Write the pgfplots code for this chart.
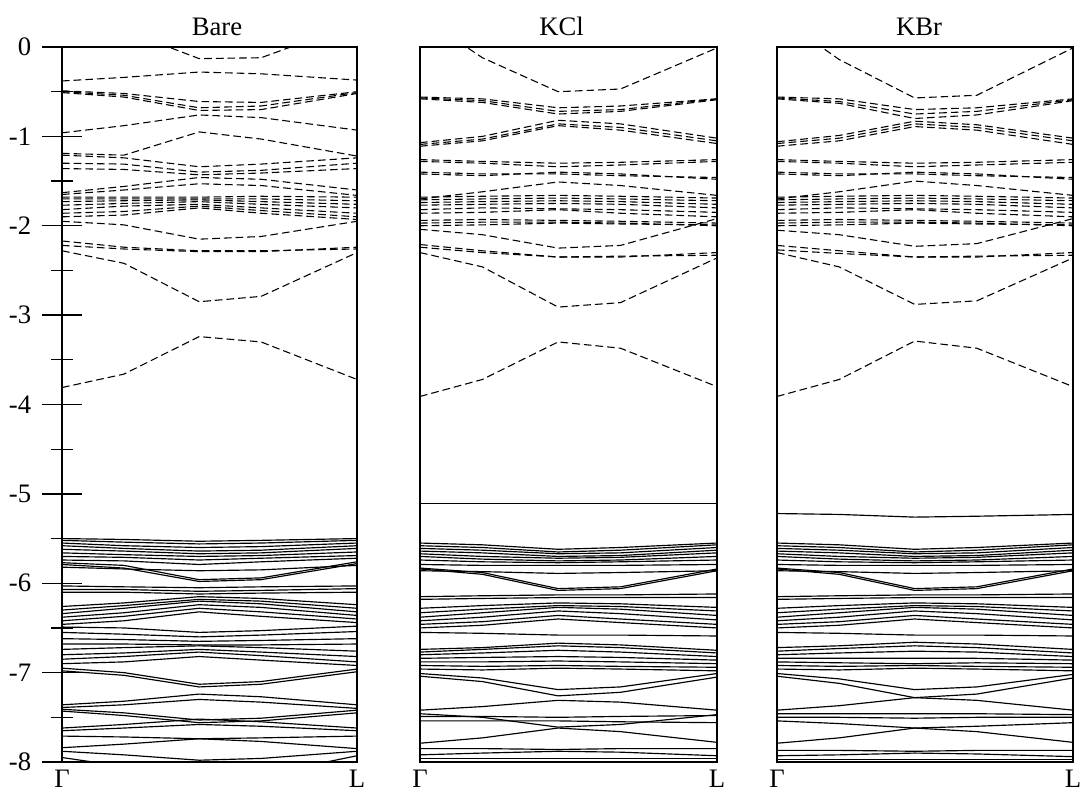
\documentclass[border=0pt]{standalone}
\usepackage{fontspec}
\setmainfont{Liberation Serif}
\usepackage{pgfplots}
\usepackage{pgfplotstable}
\pgfplotsset{compat=1.18}

% ---------- Bare: conduction bands (dashed), first data row = k positions
\pgfplotstableread{
g a m b l
0 0.21 0.465 0.675 1
0.45 0.19 -0.13 -0.12 0.27
-0.38 -0.34 -0.28 -0.30 -0.37
-0.49 -0.52 -0.61 -0.62 -0.50
-0.50 -0.54 -0.68 -0.66 -0.51
-0.51 -0.56 -0.71 -0.70 -0.52
-0.96 -0.88 -0.76 -0.79 -0.93
-1.19 -1.21 -0.95 -1.03 -1.22
-1.21 -1.24 -1.34 -1.31 -1.24
-1.30 -1.31 -1.40 -1.38 -1.30
-1.36 -1.37 -1.43 -1.41 -1.36
-1.63 -1.56 -1.46 -1.48 -1.60
-1.65 -1.60 -1.53 -1.55 -1.66
-1.68 -1.68 -1.68 -1.67 -1.68
-1.70 -1.70 -1.70 -1.70 -1.72
-1.73 -1.72 -1.71 -1.73 -1.76
-1.77 -1.75 -1.73 -1.76 -1.80
-1.82 -1.78 -1.76 -1.80 -1.86
-1.86 -1.84 -1.78 -1.83 -1.90
-1.90 -1.88 -1.80 -1.86 -1.93
-1.95 -1.99 -2.15 -2.12 -1.95
-2.17 -2.24 -2.28 -2.28 -2.26
-2.22 -2.26 -2.29 -2.29 -2.24
-2.28 -2.42 -2.85 -2.79 -2.30
-3.81 -3.66 -3.24 -3.30 -3.72
}\bareCraw
% ---------- Bare: valence bands (solid)
\pgfplotstableread{
g a m b l
0 0.21 0.465 0.675 1
-5.50 -5.51 -5.53 -5.52 -5.50
-5.52 -5.54 -5.56 -5.55 -5.52
-5.55 -5.58 -5.60 -5.59 -5.55
-5.58 -5.61 -5.64 -5.63 -5.58
-5.62 -5.64 -5.67 -5.66 -5.61
-5.66 -5.68 -5.70 -5.69 -5.65
-5.70 -5.71 -5.74 -5.72 -5.69
-5.74 -5.75 -5.79 -5.76 -5.72
-5.77 -5.80 -5.96 -5.94 -5.76
-5.79 -5.83 -5.98 -5.96 -5.78
-5.82 -5.84 -5.86 -5.85 -5.80
-6.03 -6.04 -6.05 -6.04 -6.03
-6.07 -6.07 -6.09 -6.08 -6.06
-6.10 -6.10 -6.12 -6.11 -6.10
-6.26 -6.22 -6.15 -6.17 -6.24
-6.30 -6.25 -6.18 -6.20 -6.28
-6.34 -6.28 -6.20 -6.23 -6.32
-6.38 -6.33 -6.24 -6.27 -6.36
-6.42 -6.37 -6.28 -6.32 -6.40
-6.46 -6.42 -6.32 -6.37 -6.44
-6.49 -6.50 -6.55 -6.53 -6.48
-6.55 -6.57 -6.60 -6.58 -6.54
-6.62 -6.63 -6.65 -6.64 -6.62
-6.68 -6.68 -6.69 -6.69 -6.68
-6.74 -6.72 -6.70 -6.72 -6.76
-6.80 -6.78 -6.74 -6.77 -6.82
-6.85 -6.82 -6.77 -6.81 -6.88
-6.90 -6.88 -6.82 -6.86 -6.92
-6.95 -7.00 -7.13 -7.10 -6.96
-6.98 -7.03 -7.16 -7.13 -6.99
-7.36 -7.32 -7.24 -7.27 -7.36
-7.39 -7.36 -7.30 -7.33 -7.40
-7.41 -7.45 -7.53 -7.51 -7.42
-7.43 -7.48 -7.56 -7.54 -7.45
-7.62 -7.58 -7.52 -7.55 -7.62
-7.65 -7.62 -7.58 -7.60 -7.65
-7.71 -7.72 -7.74 -7.73 -7.71
-7.84 -7.80 -7.74 -7.77 -7.85
-7.88 -7.92 -7.98 -7.96 -7.88
-7.95 -8.05 -8.20 -8.15 -7.93
}\bareVraw
% ---------- KCl: conduction
\pgfplotstableread{
g a m b l
0 0.21 0.465 0.675 1
0.35 -0.12 -0.50 -0.47 -0.01
-0.56 -0.58 -0.68 -0.66 -0.58
-0.57 -0.60 -0.72 -0.70 -0.58
-0.58 -0.62 -0.75 -0.72 -0.59
-1.07 -1.00 -0.82 -0.86 -1.02
-1.09 -1.03 -0.86 -0.90 -1.05
-1.11 -1.05 -0.88 -0.93 -1.08
-1.26 -1.28 -1.30 -1.29 -1.26
-1.28 -1.30 -1.34 -1.32 -1.28
-1.40 -1.42 -1.42 -1.44 -1.46
-1.42 -1.44 -1.40 -1.42 -1.48
-1.70 -1.62 -1.51 -1.55 -1.66
-1.68 -1.67 -1.66 -1.67 -1.69
-1.71 -1.70 -1.69 -1.70 -1.72
-1.74 -1.73 -1.72 -1.73 -1.76
-1.77 -1.76 -1.75 -1.76 -1.80
-1.82 -1.80 -1.81 -1.82 -1.85
-1.86 -1.85 -1.82 -1.86 -1.90
-1.94 -1.93 -1.94 -1.95 -1.97
-1.97 -1.96 -1.96 -1.97 -2.00
-2.00 -1.99 -1.97 -1.98 -1.99
-2.04 -2.10 -2.25 -2.22 -1.92
-2.21 -2.28 -2.35 -2.35 -2.30
-2.24 -2.30 -2.35 -2.34 -2.33
-2.30 -2.46 -2.91 -2.86 -2.36
-3.91 -3.72 -3.30 -3.37 -3.80
}\kclCraw
% ---------- KCl: valence
\pgfplotstableread{
g a m b l
0 0.21 0.465 0.675 1
-5.11 -5.11 -5.11 -5.11 -5.11
-5.55 -5.57 -5.62 -5.60 -5.55
-5.58 -5.60 -5.65 -5.63 -5.57
-5.61 -5.63 -5.67 -5.66 -5.60
-5.64 -5.66 -5.70 -5.69 -5.63
-5.67 -5.70 -5.72 -5.71 -5.66
-5.70 -5.73 -5.75 -5.74 -5.70
-5.74 -5.76 -5.77 -5.76 -5.74
-5.79 -5.80 -5.80 -5.80 -5.79
-5.83 -5.88 -6.06 -6.04 -5.84
-5.84 -5.90 -6.08 -6.06 -5.86
-5.86 -5.87 -5.89 -5.88 -5.86
-6.15 -6.14 -6.13 -6.13 -6.12
-6.18 -6.17 -6.16 -6.16 -6.16
-6.28 -6.25 -6.22 -6.23 -6.27
-6.33 -6.29 -6.25 -6.26 -6.31
-6.38 -6.33 -6.27 -6.29 -6.36
-6.42 -6.38 -6.31 -6.34 -6.41
-6.46 -6.43 -6.36 -6.40 -6.46
-6.50 -6.47 -6.40 -6.44 -6.50
-6.55 -6.56 -6.58 -6.58 -6.59
-6.74 -6.72 -6.67 -6.69 -6.75
-6.77 -6.74 -6.70 -6.72 -6.78
-6.80 -6.78 -6.75 -6.77 -6.82
-6.84 -6.83 -6.82 -6.83 -6.86
-6.88 -6.88 -6.87 -6.88 -6.90
-6.92 -6.93 -6.92 -6.93 -6.94
-6.96 -6.97 -6.95 -6.96 -6.98
-7.01 -7.06 -7.19 -7.16 -7.01
-7.04 -7.10 -7.26 -7.22 -7.05
-7.42 -7.38 -7.31 -7.33 -7.42
-7.46 -7.50 -7.61 -7.58 -7.47
-7.49 -7.49 -7.50 -7.49 -7.48
-7.54 -7.54 -7.54 -7.55 -7.56
-7.79 -7.73 -7.62 -7.66 -7.78
-7.85 -7.85 -7.86 -7.85 -7.85
-7.92 -7.90 -7.88 -7.89 -7.93
-7.96 -7.96 -7.96 -7.96 -7.96
}\kclVraw
% ---------- KBr: conduction
\pgfplotstableread{
g a m b l
0 0.21 0.465 0.675 1
0.35 -0.14 -0.57 -0.54 -0.01
-0.56 -0.58 -0.70 -0.68 -0.58
-0.57 -0.61 -0.75 -0.72 -0.59
-0.58 -0.63 -0.80 -0.76 -0.60
-1.06 -0.99 -0.83 -0.87 -1.02
-1.08 -1.02 -0.86 -0.90 -1.05
-1.11 -1.05 -0.89 -0.93 -1.09
-1.26 -1.28 -1.30 -1.29 -1.26
-1.28 -1.30 -1.34 -1.32 -1.29
-1.40 -1.42 -1.42 -1.44 -1.46
-1.42 -1.44 -1.40 -1.42 -1.48
-1.70 -1.62 -1.50 -1.55 -1.66
-1.68 -1.67 -1.66 -1.67 -1.69
-1.71 -1.70 -1.69 -1.70 -1.72
-1.74 -1.73 -1.72 -1.73 -1.76
-1.77 -1.76 -1.75 -1.76 -1.80
-1.82 -1.80 -1.81 -1.82 -1.85
-1.86 -1.85 -1.82 -1.86 -1.90
-1.94 -1.93 -1.94 -1.95 -1.97
-1.97 -1.96 -1.96 -1.97 -2.00
-2.00 -1.99 -1.97 -1.98 -1.99
-2.05 -2.10 -2.23 -2.20 -1.92
-2.22 -2.28 -2.35 -2.35 -2.30
-2.27 -2.31 -2.35 -2.34 -2.33
-2.30 -2.46 -2.88 -2.84 -2.36
-3.91 -3.72 -3.29 -3.37 -3.80
}\kbrCraw
% ---------- KBr: valence
\pgfplotstableread{
g a m b l
0 0.21 0.465 0.675 1
-5.22 -5.23 -5.26 -5.25 -5.23
-5.55 -5.57 -5.62 -5.60 -5.55
-5.58 -5.60 -5.65 -5.63 -5.57
-5.61 -5.63 -5.67 -5.66 -5.60
-5.64 -5.66 -5.70 -5.69 -5.63
-5.67 -5.70 -5.72 -5.71 -5.66
-5.70 -5.73 -5.75 -5.74 -5.70
-5.74 -5.76 -5.77 -5.76 -5.74
-5.79 -5.80 -5.80 -5.80 -5.79
-5.83 -5.88 -6.06 -6.04 -5.84
-5.84 -5.90 -6.08 -6.06 -5.86
-5.86 -5.87 -5.89 -5.88 -5.86
-6.15 -6.14 -6.13 -6.13 -6.12
-6.18 -6.17 -6.16 -6.16 -6.16
-6.28 -6.25 -6.22 -6.23 -6.27
-6.33 -6.29 -6.25 -6.26 -6.31
-6.38 -6.33 -6.27 -6.29 -6.36
-6.42 -6.38 -6.31 -6.34 -6.41
-6.46 -6.43 -6.36 -6.40 -6.46
-6.50 -6.47 -6.40 -6.44 -6.50
-6.55 -6.56 -6.58 -6.58 -6.59
-6.72 -6.70 -6.66 -6.68 -6.74
-6.76 -6.73 -6.70 -6.72 -6.78
-6.80 -6.78 -6.76 -6.77 -6.82
-6.84 -6.84 -6.84 -6.84 -6.86
-6.88 -6.89 -6.90 -6.89 -6.90
-6.92 -6.93 -6.92 -6.93 -6.94
-6.96 -6.97 -6.95 -6.96 -6.98
-7.01 -7.07 -7.19 -7.16 -7.02
-7.04 -7.12 -7.28 -7.24 -7.06
-7.42 -7.37 -7.28 -7.31 -7.42
-7.46 -7.46 -7.46 -7.46 -7.47
-7.50 -7.50 -7.51 -7.50 -7.50
-7.54 -7.57 -7.62 -7.60 -7.56
-7.79 -7.73 -7.62 -7.66 -7.78
-7.87 -7.87 -7.88 -7.87 -7.87
-7.93 -7.92 -7.90 -7.91 -7.94
-7.97 -7.97 -7.97 -7.97 -7.97
}\kbrVraw

\pgfplotstabletranspose\bareC{\bareCraw}
\pgfplotstabletranspose\bareV{\bareVraw}
\pgfplotstabletranspose\kclC{\kclCraw}
\pgfplotstabletranspose\kclV{\kclVraw}
\pgfplotstabletranspose\kbrC{\kbrCraw}
\pgfplotstabletranspose\kbrV{\kbrVraw}

\newcommand\bands[2]{%
  \pgfplotstablegetcolsof{#1}%
  \pgfmathtruncatemacro\lastcol{\pgfplotsretval-1}%
  \pgfplotsinvokeforeach{2,...,\lastcol}{%
    \addplot[#2] table[x index=1, y index=##1] {#1};
  }%
}

\pgfplotsset{
  cband/.style={black, line width=0.65pt, dash pattern=on 4.6pt off 2.4pt},
  vband/.style={black, line width=0.7pt},
  panel/.style={
    scale only axis, width=177.6pt, height=429pt, anchor=south west,
    xmin=0, xmax=1, ymin=-8, ymax=0,
    xtick={0,1}, xticklabels={Γ,L}, xtick style={draw=none},
    axis line style={line width=0.8pt, black},
    every tick label/.append style={font=\fontsize{16}{19}\selectfont},
    xticklabel style={anchor=base, inner sep=0pt, yshift=-15pt},
    every axis title/.style={at={(0.5,1)}, anchor=base, yshift=7.2pt,
      font=\fontsize{16}{19}\selectfont},
  }
}

\begin{document}
\begin{tikzpicture}
\useasboundingbox (0,0) rectangle (650.4pt,474.6pt);

\begin{axis}[panel, at={(37.2pt,17.4pt)}, width=177pt,
  title={Bare}, title style={xshift=4.5pt},
  ytick={-8,-7,-6,-5,-4,-3,-2,-1,0},
  yticklabels={-8,-7,-6,-5,-4,-3,-2,-1,0},
  minor ytick={-7.5,-6.5,-5.5,-4.5,-3.5,-2.5,-1.5,-0.5},
  ytick pos=left, tick align=center,
  major tick length=24pt, minor tick length=12.6pt,
  ytick style={line width=0.8pt, black},
  minor tick style={line width=0.8pt, black},
  yticklabel style={anchor=east, xshift=-3pt},
  xticklabel style={yshift=12pt},
]
\bands{\bareC}{cband}
\bands{\bareV}{vband}
\end{axis}

\begin{axis}[panel, at={(252pt,17.4pt)}, width=178.2pt,
  title={KCl}, title style={xshift=-4.2pt}, ytick=\empty]
\bands{\kclC}{cband}
\bands{\kclV}{vband}
\end{axis}

\begin{axis}[panel, at={(466.2pt,17.4pt)}, width=177.6pt,
  title={KBr}, title style={xshift=-3.6pt}, ytick=\empty]
\bands{\kbrC}{cband}
\bands{\kbrV}{vband}
\end{axis}
\end{tikzpicture}
\end{document}
